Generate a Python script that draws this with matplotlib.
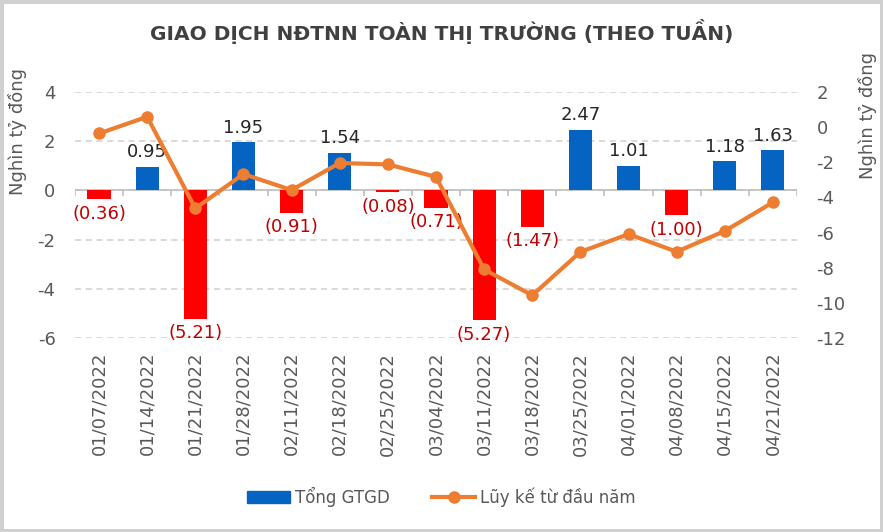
import matplotlib
matplotlib.use("Agg")
import matplotlib.pyplot as plt
import numpy as np
from matplotlib.patches import Patch
from matplotlib.lines import Line2D

weeks = ["01/07/2022", "01/14/2022", "01/21/2022", "01/28/2022", "02/11/2022",
         "02/18/2022", "02/25/2022", "03/04/2022", "03/11/2022", "03/18/2022",
         "03/25/2022", "04/01/2022", "04/08/2022", "04/15/2022", "04/21/2022"]
weekly_total = [-0.36, 0.95, -5.21, 1.95, -0.91, 1.54, -0.08, -0.71, -5.27, -1.47,
                2.47, 1.01, -1.00, 1.18, 1.63]
cumulative = [-0.36, 0.59, -4.62, -2.67, -3.58, -2.04, -2.12, -2.83, -8.10, -9.57,
              -7.10, -6.09, -7.09, -5.91, -4.28]
left_ticks = [4, 2, 0, -2, -4, -6]
right_ticks = [2, 0, -2, -4, -6, -8, -10, -12]

plt.rcParams['font.family'] = ['DejaVu Sans']
BLUE = "#0563C1"
RED = "#FF0000"
ORANGE = "#ED7D31"
GRAY = "#595959"
LABEL_RED = "#C00000"

fig = plt.figure(figsize=(8.83, 5.32), dpi=100)
fig.patch.set_facecolor("white")
fig.patch.set_edgecolor("#D0D0D0")
fig.patch.set_linewidth(5)

ax = fig.add_axes([0.0849, 0.3647, 0.8177, 0.4623])
x = np.arange(len(weeks))
colors = [BLUE if v >= 0 else RED for v in weekly_total]
ax.bar(x, weekly_total, width=0.48, color=colors, zorder=2)
ax.set_xlim(-0.5, len(weeks) - 0.5)
ax.set_ylim(-6, 4)
ax.set_yticks(left_ticks)
ax.set_yticklabels([str(t) for t in left_ticks])
ax.yaxis.grid(True, color="#D0D0D0", linestyle=(0, (4, 3)), linewidth=1.1, zorder=0)
ax.set_axisbelow(True)
for s in ax.spines.values():
    s.set_visible(False)
ax.axhline(0, color="#BFBFBF", linewidth=1.2, zorder=1)
ax.vlines(np.arange(len(weeks) + 1) - 0.5, -0.22, 0, color="#BFBFBF", linewidth=1.2, zorder=1)
ax.tick_params(axis="y", length=0, labelsize=13, labelcolor=GRAY, pad=14)
ax.set_xticks(x)
ax.set_xticklabels(weeks, rotation=90, fontsize=13, color=GRAY)
ax.tick_params(axis="x", length=0, pad=10)
ax.set_ylabel("Nghìn tỷ đồng", fontsize=13, color=GRAY, labelpad=4)
ax.yaxis.set_label_coords(-0.066, 0.84)

for xi, v in zip(x, weekly_total):
    if v >= 0:
        ax.annotate(f"{v:.2f}", (xi, v), xytext=(0, 4), textcoords="offset points",
                    ha="center", va="bottom", fontsize=13, color="#262626", zorder=3)
    else:
        ax.annotate(f"({abs(v):.2f})", (xi, v), xytext=(0, -4), textcoords="offset points",
                    ha="center", va="top", fontsize=13, color=LABEL_RED, zorder=3)

ax2 = ax.twinx()
ax2.plot(x, cumulative, color=ORANGE, linewidth=3, marker="o", markersize=8, zorder=4)
ax2.set_ylim(-12, 2)
ax2.set_yticks(right_ticks)
ax2.set_yticklabels([str(t) for t in right_ticks])
for s in ax2.spines.values():
    s.set_visible(False)
ax2.tick_params(axis="y", length=0, labelsize=13, labelcolor=GRAY, pad=14)
ax2.set_ylabel("Nghìn tỷ đồng", fontsize=13, color=GRAY, rotation=90, labelpad=4)
ax2.yaxis.set_label_coords(1.085, 0.905)

fig.text(0.5, 0.94, "GIAO DỊCH NĐTNN TOÀN THỊ TRƯỜNG (THEO TUẦN)", ha="center", va="center",
         fontsize=14.5, fontweight="bold", color="#404040")

handles = [Patch(facecolor=BLUE, edgecolor=BLUE),
           Line2D([0], [0], color=ORANGE, linewidth=3, marker="o", markersize=8)]
fig.legend(handles, ["Tổng GTGD", "Lũy kế từ đầu năm"], loc="center",
           bbox_to_anchor=(0.5, 0.066), ncol=2, frameon=False, fontsize=12,
           labelcolor=GRAY, handlelength=2.6, handletextpad=0.3, columnspacing=2.5)

fig.savefig("out.png", dpi=100, facecolor=fig.get_facecolor(), edgecolor=fig.get_edgecolor())
